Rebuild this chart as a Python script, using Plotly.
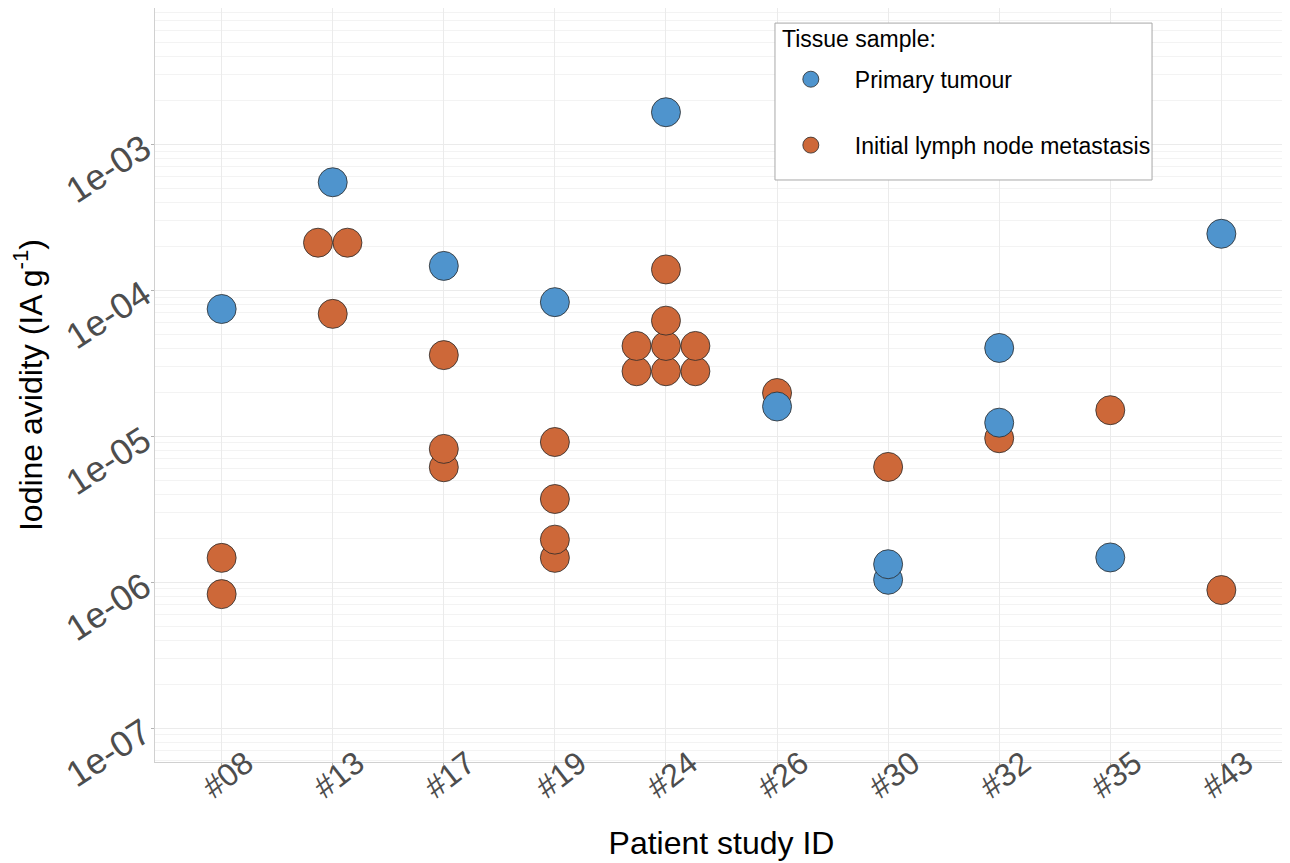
import plotly.graph_objects as go

patients = ["#08", "#13", "#17", "#19", "#24", "#26", "#30", "#32", "#35", "#43"]

primary_patient = ["#08", "#13", "#17", "#19", "#24", "#26", "#30", "#30", "#32", "#32", "#35", "#43"]
primary_value = [7.45e-5, 5.5e-4, 1.47e-4, 8.3e-5, 1.66e-3, 1.6e-5,
                 1.04e-6, 1.33e-6, 1.24e-5, 4.03e-5, 1.48e-6, 2.44e-4]

lymph_patient = ["#08", "#08",
                 "#13", "#13", "#13",
                 "#17", "#17", "#17",
                 "#19", "#19", "#19", "#19",
                 "#24", "#24", "#24", "#24", "#24", "#24", "#24", "#24",
                 "#26", "#30", "#32", "#35", "#43"]
lymph_value = [8.3e-7, 1.47e-6,
               6.9e-5, 2.12e-4, 2.12e-4,
               6.14e-6, 8.2e-6, 3.6e-5,
               1.47e-6, 1.96e-6, 3.72e-6, 9.14e-6,
               2.79e-5, 2.79e-5, 2.79e-5, 4.16e-5, 4.16e-5, 4.16e-5, 6.2e-5, 1.39e-4,
               1.98e-5, 6.17e-6, 9.7e-6, 1.51e-5, 8.85e-7]

BLUE = "#4F94CD"
ORANGE = "#CD6839"
DODGE = 0.265


def dodged_x(pids, vals):
    """Category index with side-by-side dodge for identical values."""
    idx = {p: i + 1 for i, p in enumerate(patients)}
    counts = {}
    for p, v in zip(pids, vals):
        counts[(p, v)] = counts.get((p, v), 0) + 1
    seen = {}
    xs = []
    for p, v in zip(pids, vals):
        n = counts[(p, v)]
        k = seen.get((p, v), 0)
        seen[(p, v)] = k + 1
        xs.append(idx[p] + (k - (n - 1) / 2) * DODGE)
    return xs


fig = go.Figure()
fig.add_trace(go.Scatter(
    x=dodged_x(lymph_patient, lymph_value), y=lymph_value, mode="markers",
    name="Initial lymph node metastasis", legendrank=2, legendgroup="b",
    marker=dict(size=29, color=ORANGE, line=dict(width=0.8, color="#2a2a2a")),
))
fig.add_trace(go.Scatter(
    x=dodged_x(primary_patient, primary_value), y=primary_value, mode="markers",
    name="Primary tumour", legendrank=1, legendgroup="a",
    marker=dict(size=29, color=BLUE, line=dict(width=0.8, color="#2a2a2a")),
))

decades = [-7, -6, -5, -4, -3]
minor_vals = [m * 10 ** e for e in range(-8, -1) for m in range(2, 10)]

fig.update_layout(
    width=1282, height=855,
    margin=dict(l=147, r=2, t=0, b=101),
    paper_bgcolor="white", plot_bgcolor="white",
    font=dict(family="Liberation Sans, Arial, sans-serif", color="black"),
    showlegend=True,
    legend=dict(
        x=0.540, y=0.934, xanchor="left", yanchor="top",
        bgcolor="rgba(0,0,0,0)", borderwidth=0,
        font=dict(size=23, color="black"),
        tracegroupgap=33, itemwidth=78,
    ),
    shapes=[dict(type="rect", xref="paper", yref="paper",
                 x0=0.5472, x1=0.880, y0=0.7719, y1=0.980,
                 line=dict(color="#A8A8A8", width=1), fillcolor="white", layer="above")],
    annotations=[dict(text="Tissue sample:", xref="paper", yref="paper",
                      x=0.5516, y=0.9589, xanchor="left", yanchor="middle",
                      showarrow=False, font=dict(size=23, color="black"))],
)
fig.update_xaxes(
    range=[0.4, 10.6], automargin=False,
    tickmode="array", tickvals=list(range(1, len(patients) + 1)), ticktext=patients,
    tickangle=-38, tickfont=dict(size=32, color="#4D4D4D"),
    ticklabelshift=24, ticklabelstandoff=-34,
    showgrid=True, gridcolor="#EBEBEB", gridwidth=1,
    ticks="outside", ticklen=3, tickcolor="#B3B3B3",
    showline=True, mirror=True, linecolor="#D0D0D0", linewidth=1,
    zeroline=False,
    title=dict(text="Patient study ID", font=dict(size=32, color="black"), standoff=27),
)
fig.update_yaxes(
    type="log", range=[-7.231, -2.066], automargin=False,
    tickmode="array", tickvals=[10 ** d for d in decades],
    ticktext=["1e-%02d" % (-d) for d in decades],
    tickangle=-33, tickfont=dict(size=36, color="#4D4D4D"),
    showgrid=True, gridcolor="#EBEBEB", gridwidth=1,
    minor=dict(tickmode="array", tickvals=minor_vals, showgrid=True,
               gridcolor="#F3F3F3", gridwidth=1, ticks=""),
    ticks="outside", ticklen=3, tickcolor="#B3B3B3",
    showline=True, mirror=True, linecolor="#D0D0D0", linewidth=1,
    zeroline=False,
    title=dict(text="Iodine avidity (IA g<sup>-1</sup>)", font=dict(size=32, color="black"), standoff=6),
)

fig.write_html("out.html")
